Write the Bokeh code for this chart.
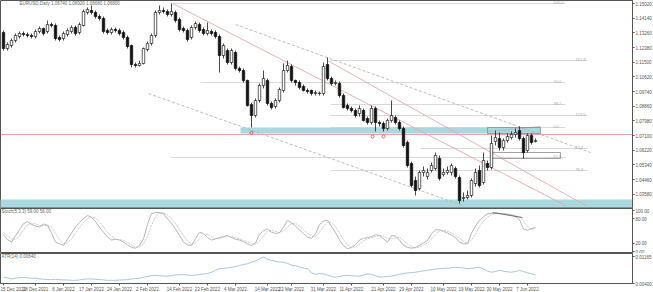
from bokeh.plotting import figure
from bokeh.models import Range1d, FixedTicker, Label, PrintfTickFormatter
from bokeh.layouts import column
from bokeh.embed import file_html
from bokeh.resources import INLINE
from bokeh.core.properties import value

# ---------------- data (EURUSD, daily) ----------------
opens = [1.1328, 1.1232, 1.1250, 1.1280, 1.1304, 1.1322, 1.1316, 1.1310, 1.1304, 1.1334,
         1.1352, 1.1334, 1.1376, 1.1370, 1.1298, 1.1292, 1.1316, 1.1334, 1.1358, 1.1328,
         1.1370, 1.1448, 1.1460, 1.1448, 1.1424, 1.1412, 1.1340, 1.1328, 1.1346, 1.1340,
         1.1328, 1.1298, 1.1250, 1.1136, 1.1130, 1.1142, 1.1226, 1.1262, 1.1310, 1.1448,
         1.1460, 1.1454, 1.1436, 1.1448, 1.1406, 1.1352, 1.1340, 1.1298, 1.1358, 1.1376,
         1.1346, 1.1322, 1.1334, 1.1328, 1.1304, 1.1190, 1.1220, 1.1148, 1.1208, 1.1112,
         1.1100, 1.1040, 1.0896, 1.0830, 1.0920, 1.1010, 1.1040, 1.0902, 1.0884, 1.0920,
         1.0980, 1.1100, 1.1124, 1.1040, 1.1028, 1.1004, 1.0980, 1.0980, 1.0962, 1.0962,
         1.0962, 1.1136, 1.1052, 1.1022, 1.1022, 1.0950, 1.0890, 1.0872, 1.0860, 1.0842,
         1.0860, 1.0812, 1.0788, 1.0872, 1.0788, 1.0782, 1.0752, 1.0800, 1.0818, 1.0788,
         1.0752, 1.0668, 1.0542, 1.0440, 1.0392, 1.0488, 1.0464, 1.0500, 1.0512, 1.0572,
         1.0476, 1.0488, 1.0488, 1.0512, 1.0458, 1.0332, 1.0338, 1.0350, 1.0422, 1.0500,
         1.0428, 1.0542, 1.0518, 1.0674, 1.0692, 1.0638, 1.0680, 1.0698, 1.0716, 1.0740,
         1.0692, 1.0620, 1.0710, 1.0674]
highs = [1.1340, 1.1268, 1.1292, 1.1322, 1.1334, 1.1334, 1.1328, 1.1322, 1.1346, 1.1364,
         1.1358, 1.1400, 1.1388, 1.1382, 1.1310, 1.1334, 1.1352, 1.1370, 1.1370, 1.1388,
         1.1466, 1.1478, 1.1490, 1.1460, 1.1436, 1.1424, 1.1352, 1.1358, 1.1358, 1.1352,
         1.1340, 1.1310, 1.1256, 1.1148, 1.1160, 1.1238, 1.1274, 1.1322, 1.1460, 1.1490,
         1.1478, 1.1466, 1.1502, 1.1460, 1.1418, 1.1364, 1.1352, 1.1370, 1.1394, 1.1388,
         1.1358, 1.1388, 1.1346, 1.1340, 1.1316, 1.1262, 1.1232, 1.1232, 1.1220, 1.1124,
         1.1112, 1.1046, 1.0908, 1.0932, 1.1022, 1.1100, 1.1052, 1.0914, 1.0932, 1.0998,
         1.1142, 1.1160, 1.1136, 1.1046, 1.1040, 1.1016, 1.0992, 1.0986, 1.0980, 1.0974,
         1.1148, 1.1178, 1.1064, 1.1040, 1.1034, 1.0962, 1.0902, 1.0884, 1.0872, 1.0890,
         1.0872, 1.0824, 1.0890, 1.0884, 1.0800, 1.0794, 1.0812, 1.0920, 1.0830, 1.0800,
         1.0764, 1.0680, 1.0554, 1.0464, 1.0500, 1.0524, 1.0512, 1.0548, 1.0608, 1.0590,
         1.0512, 1.0524, 1.0542, 1.0524, 1.0470, 1.0368, 1.0380, 1.0452, 1.0512, 1.0530,
         1.0608, 1.0560, 1.0710, 1.0740, 1.0728, 1.0692, 1.0722, 1.0734, 1.0752, 1.0764,
         1.0704, 1.0722, 1.0722, 1.0692]
lows = [1.1220, 1.1220, 1.1238, 1.1268, 1.1292, 1.1304, 1.1298, 1.1292, 1.1292, 1.1322,
        1.1310, 1.1322, 1.1358, 1.1280, 1.1274, 1.1280, 1.1304, 1.1322, 1.1310, 1.1316,
        1.1364, 1.1436, 1.1436, 1.1412, 1.1400, 1.1322, 1.1316, 1.1316, 1.1328, 1.1310,
        1.1286, 1.1232, 1.1118, 1.1118, 1.1124, 1.1136, 1.1214, 1.1250, 1.1298, 1.1436,
        1.1442, 1.1424, 1.1424, 1.1388, 1.1334, 1.1328, 1.1274, 1.1286, 1.1346, 1.1328,
        1.1310, 1.1310, 1.1310, 1.1292, 1.1088, 1.1172, 1.1136, 1.1136, 1.1100, 1.1088,
        1.1028, 1.0884, 1.0758, 1.0818, 1.0908, 1.0992, 1.0890, 1.0866, 1.0872, 1.0908,
        1.0968, 1.1088, 1.1028, 1.1010, 1.0986, 1.0974, 1.0962, 1.0950, 1.0950, 1.0950,
        1.0950, 1.1040, 1.1010, 1.1010, 1.0938, 1.0872, 1.0860, 1.0848, 1.0818, 1.0824,
        1.0794, 1.0776, 1.0776, 1.0734, 1.0764, 1.0734, 1.0740, 1.0788, 1.0776, 1.0740,
        1.0638, 1.0518, 1.0398, 1.0350, 1.0380, 1.0464, 1.0446, 1.0488, 1.0500, 1.0440,
        1.0464, 1.0476, 1.0470, 1.0452, 1.0302, 1.0314, 1.0326, 1.0338, 1.0404, 1.0398,
        1.0416, 1.0500, 1.0506, 1.0650, 1.0620, 1.0620, 1.0668, 1.0686, 1.0698, 1.0680,
        1.0572, 1.0608, 1.0656, 1.0668]
closes = [1.1232, 1.1256, 1.1280, 1.1310, 1.1322, 1.1316, 1.1310, 1.1304, 1.1334, 1.1352,
          1.1322, 1.1376, 1.1370, 1.1292, 1.1286, 1.1322, 1.1340, 1.1358, 1.1322, 1.1376,
          1.1454, 1.1466, 1.1448, 1.1424, 1.1412, 1.1334, 1.1328, 1.1346, 1.1340, 1.1322,
          1.1298, 1.1244, 1.1136, 1.1130, 1.1142, 1.1232, 1.1262, 1.1310, 1.1448, 1.1460,
          1.1454, 1.1436, 1.1454, 1.1400, 1.1346, 1.1340, 1.1286, 1.1358, 1.1382, 1.1340,
          1.1322, 1.1340, 1.1322, 1.1304, 1.1190, 1.1250, 1.1148, 1.1220, 1.1112, 1.1100,
          1.1040, 1.0890, 1.0830, 1.0920, 1.1010, 1.1052, 1.0902, 1.0878, 1.0920, 1.0986,
          1.1100, 1.1130, 1.1040, 1.1028, 1.0998, 1.0980, 1.0974, 1.0962, 1.0968, 1.0964,
          1.1124, 1.1052, 1.1022, 1.1028, 1.0950, 1.0878, 1.0872, 1.0860, 1.0830, 1.0872,
          1.0800, 1.0788, 1.0872, 1.0788, 1.0782, 1.0752, 1.0800, 1.0830, 1.0788, 1.0752,
          1.0650, 1.0530, 1.0410, 1.0380, 1.0488, 1.0500, 1.0488, 1.0530, 1.0590, 1.0452,
          1.0488, 1.0500, 1.0530, 1.0464, 1.0320, 1.0338, 1.0350, 1.0440, 1.0488, 1.0410,
          1.0560, 1.0518, 1.0662, 1.0698, 1.0638, 1.0680, 1.0704, 1.0716, 1.0728, 1.0692,
          1.0608, 1.0710, 1.0668, 1.0680]

stoch_main = [41, 29, 23, 38, 53, 68, 73, 66, 62, 60, 67, 64, 45, 23, 19, 15, 30, 45, 60, 71,
              80, 88, 83, 73, 59, 47, 35, 28, 30, 28, 23, 16, 10, 8, 15, 31, 66, 93, 95, 95,
              92, 80, 69, 55, 39, 23, 16, 15, 31, 47, 44, 34, 28, 31, 34, 37, 39, 34, 30, 28,
              24, 19, 14, 21, 42, 51, 55, 47, 44, 46, 59, 76, 70, 62, 53, 44, 35, 32, 43, 66,
              74, 76, 61, 46, 28, 14, 7, 10, 17, 28, 32, 34, 36, 41, 39, 31, 23, 39, 38, 28,
              15, 10, 8, 10, 15, 21, 27, 43, 53, 53, 49, 45, 40, 34, 23, 19, 19, 45, 62, 76,
              85, 92, 93, 94, 93, 92, 90, 89, 85, 78, 55, 52, 56, 59]
stoch_signal = [45, 38, 31, 30, 38, 53, 65, 69, 67, 63, 63, 64, 59, 44, 29, 19, 21, 30, 45, 59,
                70, 80, 84, 81, 72, 60, 47, 37, 31, 29, 27, 22, 16, 11, 11, 18, 37, 63, 85, 94,
                94, 89, 80, 68, 54, 39, 26, 18, 21, 31, 41, 42, 35, 31, 31, 34, 37, 37, 34, 31,
                27, 24, 19, 18, 26, 38, 49, 51, 49, 46, 50, 60, 68, 69, 62, 53, 44, 37, 37, 47,
                61, 72, 70, 61, 45, 29, 16, 10, 11, 18, 26, 31, 34, 37, 39, 37, 31, 31, 33, 35,
                27, 18, 11, 9, 11, 15, 21, 30, 41, 50, 52, 49, 45, 40, 32, 25, 20, 28, 42, 61,
                74, 84, 90, 93, 93, 93, 92, 90, 88, 84, 73, 62, 54, 56]
atr = [0.0058, 0.0056, 0.0053, 0.0055, 0.0057, 0.0057, 0.0056, 0.0055, 0.0055, 0.0053,
       0.0052, 0.0051, 0.0051, 0.0052, 0.0051, 0.0050, 0.0050, 0.0049, 0.0049, 0.0050,
       0.0052, 0.0053, 0.0053, 0.0052, 0.0051, 0.0050, 0.0049, 0.0049, 0.0049, 0.0050,
       0.0050, 0.0051, 0.0053, 0.0054, 0.0055, 0.0058, 0.0060, 0.0062, 0.0063, 0.0062,
       0.0061, 0.0061, 0.0062, 0.0064, 0.0065, 0.0065, 0.0064, 0.0063, 0.0064, 0.0066,
       0.0067, 0.0068, 0.0072, 0.0077, 0.0082, 0.0083, 0.0084, 0.0086, 0.0088, 0.0091,
       0.0094, 0.0096, 0.0100, 0.0104, 0.0110, 0.0115, 0.0109, 0.0105, 0.0103, 0.0101,
       0.0100, 0.0097, 0.0092, 0.0090, 0.0087, 0.0084, 0.0082, 0.0070, 0.0066, 0.0068,
       0.0067, 0.0064, 0.0060, 0.0058, 0.0060, 0.0062, 0.0063, 0.0062, 0.0061, 0.0061,
       0.0064, 0.0067, 0.0066, 0.0062, 0.0058, 0.0059, 0.0060, 0.0061, 0.0063, 0.0066,
       0.0068, 0.0070, 0.0071, 0.0072, 0.0074, 0.0076, 0.0077, 0.0079, 0.0081, 0.0082,
       0.0083, 0.0083, 0.0085, 0.0086, 0.0085, 0.0084, 0.0082, 0.0083, 0.0085, 0.0086,
       0.0081, 0.0075, 0.0072, 0.0074, 0.0077, 0.0075, 0.0073, 0.0072, 0.0074, 0.0077,
       0.0074, 0.0070, 0.0068, 0.0064]

date_tick_bars = [0, 8, 15, 22, 29, 36, 44, 51, 58, 66, 72, 80, 87, 95, 102, 110, 117, 124, 131]
date_tick_labels = ["15 Dec 2021", "28 Dec 2021", "6 Jan 2022", "17 Jan 2022", "24 Jan 2022",
                    "2 Feb 2022", "14 Feb 2022", "23 Feb 2022", "4 Mar 2022", "14 Mar 2022",
                    "22 Mar 2022", "31 Mar 2022", "11 Apr 2022", "21 Apr 2022", "29 Apr 2022",
                    "10 May 2022", "19 May 2022", "30 May 2022", "7 Jun 2022"]
price_ticks = [1.1502, 1.1414, 1.1326, 1.1238, 1.1150, 1.1062, 1.0974, 1.0886, 1.0798,
               1.0710, 1.0622, 1.0534, 1.0446, 1.0358]
stoch_ticks = [100, 80, 20, 0]
atr_ticks = [0.01165, 0.0040]

# analyst drawings (bar index / price)
trend_bar0 = [58.0, 42.25, 81.0, 36.25, 121.0]
trend_price0 = [1.1376, 1.1502, 1.1160, 1.0962, 1.0734]
trend_bar1 = [146.75, 140.5, 145.5, 114.75, 134.25]
trend_price1 = [1.0608, 1.0290, 1.0290, 1.0290, 1.0764]
trend_color = ["#b4b4b4", "#e7a7ae", "#e7a7ae", "#b4b4b4", "#b4b4b4"]
trend_dash = ["3 2", "solid", "solid", "3 2", "solid"]

fib_price = [1.1502, 1.1160, 1.1028, 1.0896, 1.0830, 1.0758, 1.0632, 1.0578, 1.0500]
fib_bar0 = [41.75, 81.75, 49.25, 81.75, 81.75, 81.75, 104.25, 41.75, 81.75]
fib_bar1 = [140.5, 146.0, 140.5, 140.5, 146.0, 140.5, 146.0, 140.5, 146.0]
fib_text = ["100.0", "161.8", "50.0", "38.2", "123.6", "0.0", "23.6", "61.8", "76.4"]

zone_bar0 = [59.25, -1.0]
zone_bar1 = [134.25, 160.0]
zone_top = [1.0758, 1.0326]
zone_bottom = [1.0722, 1.0270]

box_bar0 = [121.75, 121.0]
box_bar1 = [139.25, 134.25]
box_top = [1.0608, 1.0758]
box_bottom = [1.0572, 1.0722]

mark_bar = [62, 92.25, 95]
mark_price = [1.0726, 1.0704, 1.0704]

div_bar = [122.25, 129.75]
div_stoch = [95, 83]

ask_price = 1.0716
last_price = closes[-1]

# ---------------- layout ----------------
FW = 632
FONT = value("Liberation Sans")
xr = Range1d(-0.75, -0.75 + FW / 4.0)


def base(h, yr, bottom_axis=False):
    p = figure(frame_width=FW, frame_height=h, x_range=xr, y_range=yr,
               output_backend="svg", toolbar_location=None,
               x_axis_location="below" if bottom_axis else None,
               y_axis_location="right",
               min_border_left=0, min_border_right=0, min_border_top=0,
               min_border_bottom=0 if bottom_axis else 1)
    p.xgrid.visible = False
    p.ygrid.visible = False
    p.outline_line_color = "#555555"
    p.outline_line_width = 1
    p.background_fill_color = "white"
    p.border_fill_color = "white"
    ax = p.yaxis[0]
    ax.axis_line_color = "#555555"
    ax.major_tick_line_color = "#555555"
    ax.major_tick_out = 2
    ax.major_tick_in = 0
    ax.minor_tick_line_color = None
    ax.major_label_standoff = 1
    ax.major_label_text_font_size = "4.5px"
    ax.major_label_text_color = "#555555"
    ax.major_label_text_font = "Liberation Sans"
    return p


# main pane
p1 = base(207, Range1d(1.0278, 1.1520))
p1.yaxis[0].ticker = FixedTicker(ticks=price_ticks)
p1.yaxis[0].formatter = PrintfTickFormatter(format="%.5f")

# zones
p1.quad(left=zone_bar0, right=zone_bar1, top=zone_top, bottom=zone_bottom,
        fill_color="#a9d8de", line_color=None)
# horizontal fib levels
p1.segment(x0=fib_bar0, y0=fib_price, x1=fib_bar1, y1=fib_price, line_color="#cfcfcf", line_width=0.8)
p1.text(x=[b - 3 for b in fib_bar1], y=fib_price, text=fib_text, text_font_size="4px",
        text_color="#aaaaaa", text_baseline="bottom", text_align="left", text_font=FONT)
# ask line
p1.line(x=[-1, 160], y=[ask_price, ask_price], line_color="#e26b6b", line_width=0.8, line_alpha=0.8)
# trend lines
for i in range(len(trend_bar0)):
    p1.line(x=[trend_bar0[i], trend_bar1[i]], y=[trend_price0[i], trend_price1[i]],
            line_color=trend_color[i], line_width=0.9, line_dash=trend_dash[i])
# boxes
p1.quad(left=box_bar0, right=box_bar1, top=box_top, bottom=box_bottom,
        fill_color=None, line_color="#8a8a8a", line_width=0.8)

idx = list(range(len(closes)))
up_i = [i for i in idx if closes[i] >= opens[i]]
dn_i = [i for i in idx if closes[i] < opens[i]]
p1.segment(x0=idx, y0=lows, x1=idx, y1=highs, line_color="#1a1a1a", line_width=0.8)
p1.vbar(x=up_i, width=0.62, top=[closes[i] for i in up_i], bottom=[opens[i] for i in up_i],
        fill_color="white", line_color="#1a1a1a", line_width=0.7)
p1.vbar(x=dn_i, width=0.62, top=[opens[i] for i in dn_i], bottom=[closes[i] for i in dn_i],
        fill_color="#111111", line_color="#111111", line_width=0.7)
p1.scatter(x=mark_bar, y=mark_price, size=3, marker="circle", fill_color=None,
           line_color="#e03030", line_width=0.7)

p1.add_layout(Label(x=4, y=1.1515, text="EURUSD,Daily  1.06740 1.06920 1.06680 1.06800",
                    text_font_size="4.5px", text_color="#666666", text_baseline="top",
                    text_font="Liberation Sans"))
p1.add_layout(Label(x=xr.end, y=ask_price, text="1.07160", text_font_size="4.5px",
                    text_color="white", text_baseline="middle", background_fill_color="#e3211c",
                    x_offset=1, text_font="Liberation Sans", padding=1))
p1.add_layout(Label(x=xr.end, y=last_price, text="1.06800", text_font_size="4.5px",
                    text_color="#333333", text_baseline="middle", background_fill_color="#d8d8d8",
                    x_offset=1, text_font="Liberation Sans", padding=1))

# stochastic pane
p2 = base(44, Range1d(-2.4, 104.9))
p2.yaxis[0].ticker = FixedTicker(ticks=stoch_ticks)
p2.yaxis[0].formatter = PrintfTickFormatter(format="%.2f")
p2.line(x=idx, y=stoch_signal, line_color="#c8c8c8", line_width=1.0, line_dash="2 1")
p2.line(x=idx, y=stoch_main, line_color="#b5b5b5", line_width=1.0)
p2.line(x=div_bar, y=div_stoch, line_color="#555555", line_width=0.8)
p2.add_layout(Label(x=-0.5, y=103, text="Stoch(5,3,3) 59.00 56.00", text_font_size="4.5px",
                    text_color="#666666", text_baseline="top", text_font="Liberation Sans"))

# ATR pane
p3 = base(30, Range1d(0.0040, 0.0125), bottom_axis=True)
p3.yaxis[0].ticker = FixedTicker(ticks=atr_ticks)
p3.yaxis[0].formatter = PrintfTickFormatter(format="%.5f")
p3.line(x=idx, y=atr, line_color="#a9c6d8", line_width=1.0)
p3.add_layout(Label(x=-0.5, y=0.0124, text="ATR(14) 0.00640", text_font_size="4.5px",
                    text_color="#666666", text_baseline="top", text_font="Liberation Sans"))
xa = p3.xaxis[0]
xa.ticker = FixedTicker(ticks=date_tick_bars)
xa.major_label_overrides = {b: l for b, l in zip(date_tick_bars, date_tick_labels)}
xa.major_label_text_font_size = "4.5px"
xa.major_label_text_color = "#555555"
xa.major_label_text_font = "Liberation Sans"
xa.axis_line_color = "#555555"
xa.major_tick_line_color = "#555555"
xa.major_tick_out = 2
xa.major_tick_in = 0
xa.minor_tick_line_color = None
xa.major_label_standoff = 1

layout = column(p1, p2, p3, spacing=0)
open("out.html", "w").write(file_html(layout, INLINE))
